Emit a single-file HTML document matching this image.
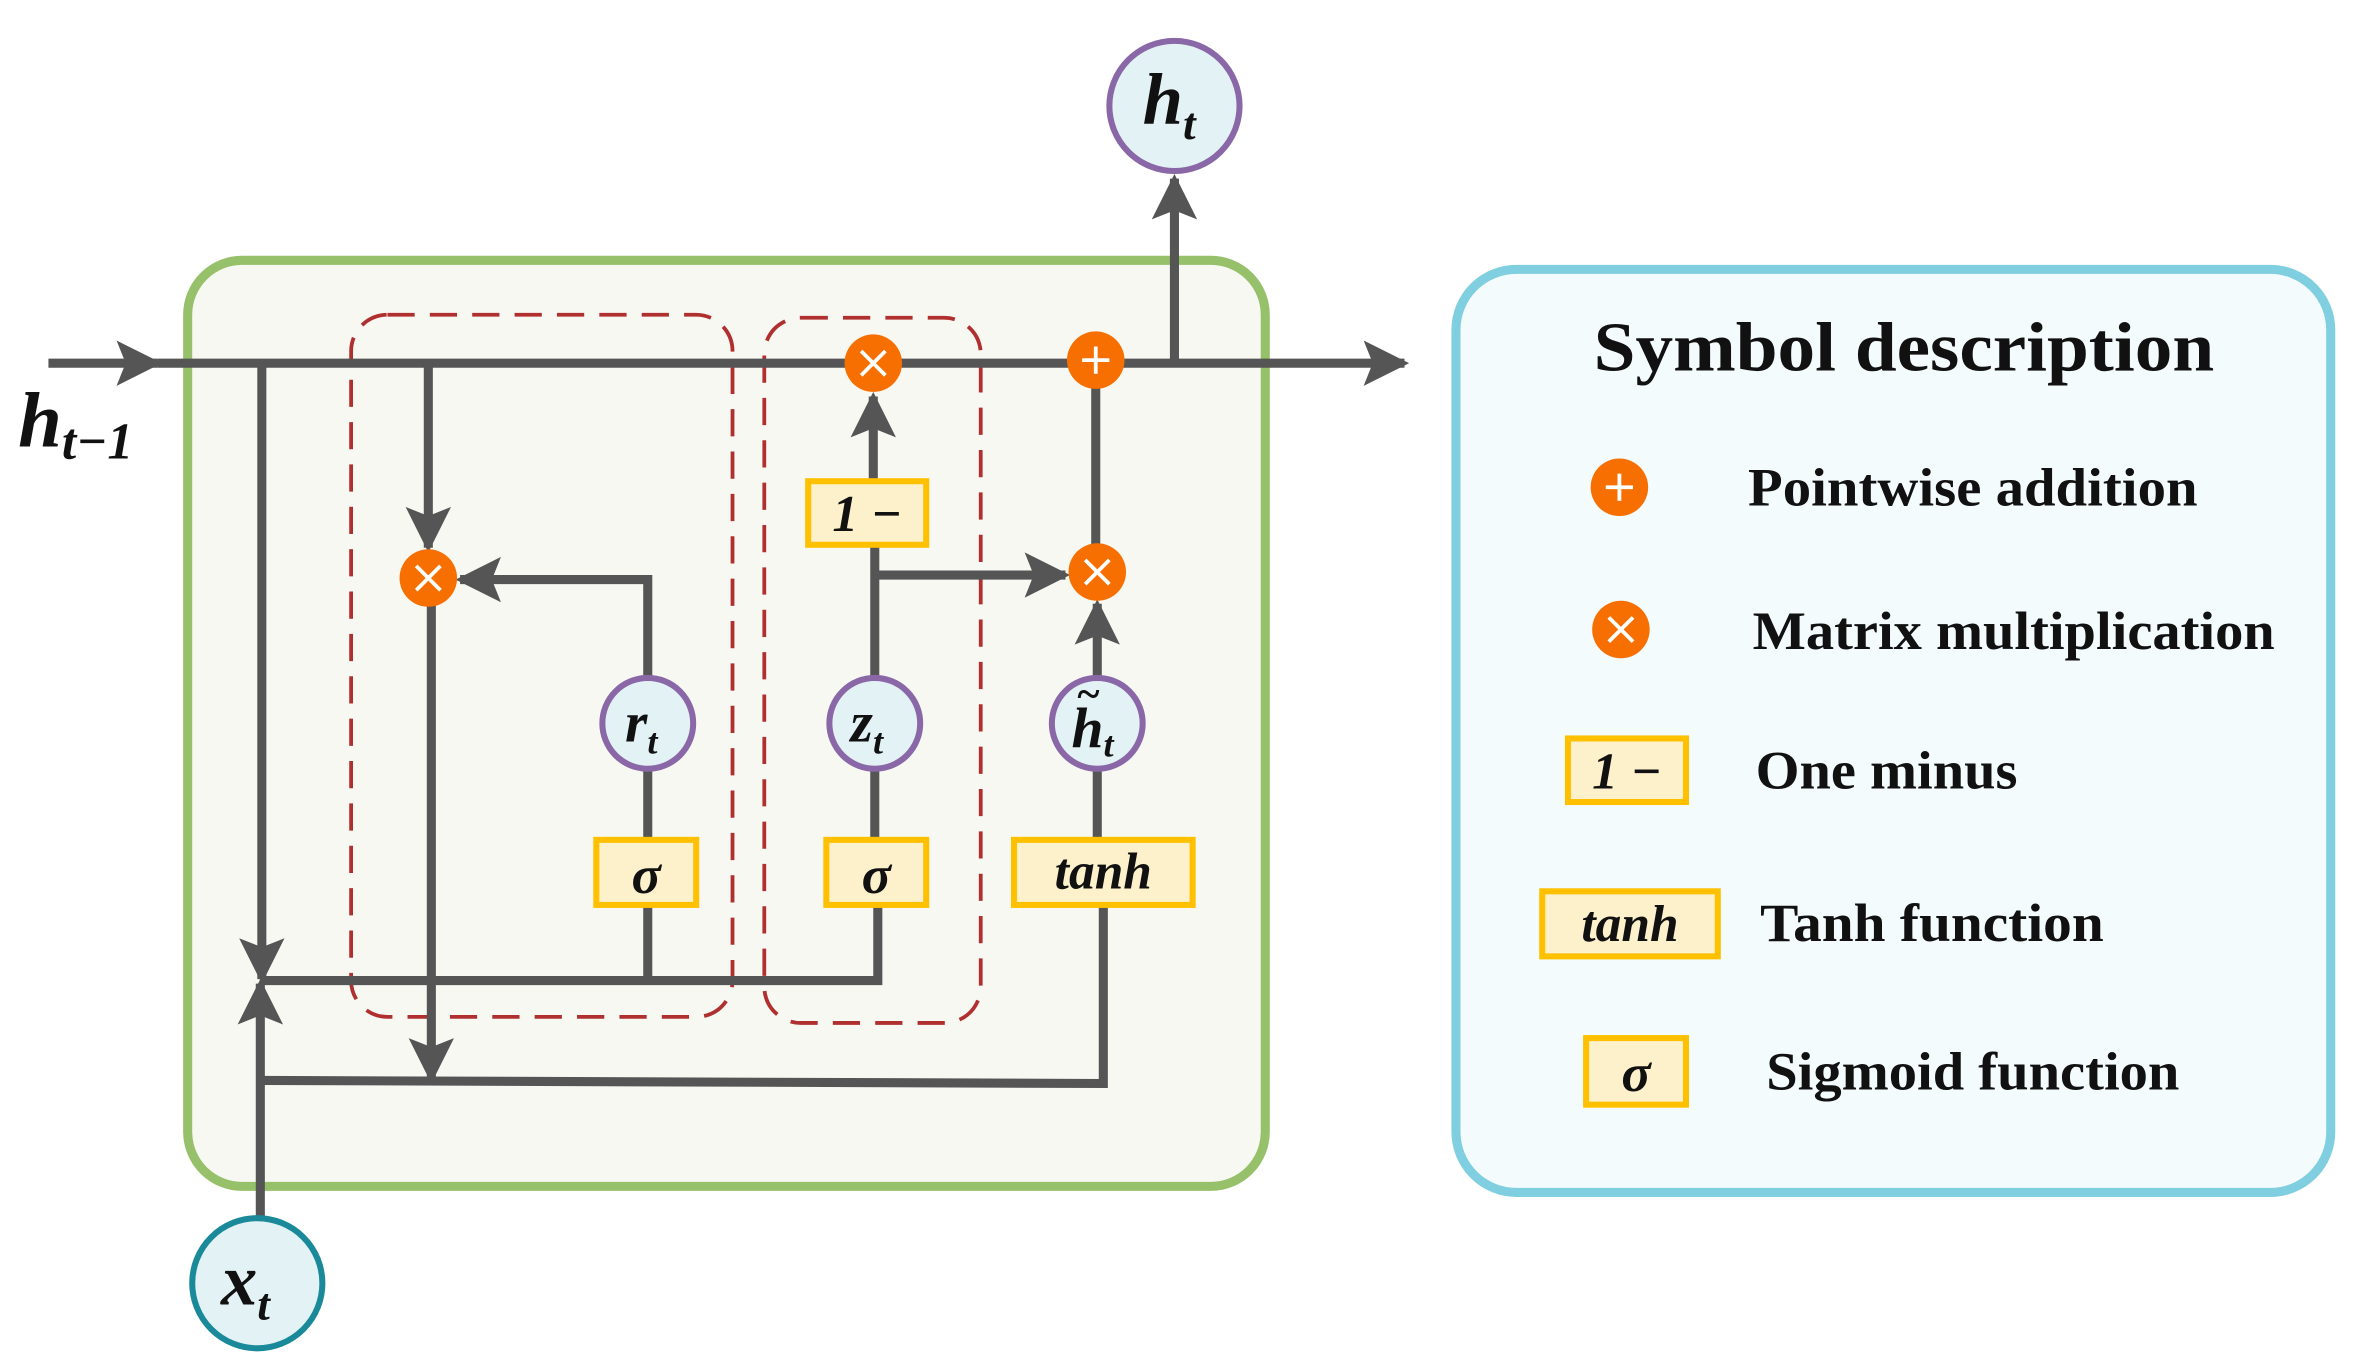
<!DOCTYPE html>
<html><head><meta charset="utf-8"><style>html,body{margin:0;padding:0;background:#fff}svg{display:block}</style></head>
<body>
<svg width="2361" height="1371" viewBox="0 0 1560 906" preserveAspectRatio="none" xmlns="http://www.w3.org/2000/svg" font-family="Liberation Serif, serif">
<defs>
<marker id="a" viewBox="0 0 10 10" refX="9" refY="5" markerWidth="5" markerHeight="5" markerUnits="strokeWidth" orient="auto"><path d="M0,0 L10,5 L0,10 L2,5 z" fill="#555"/></marker>
<g id="mx"><circle r="19" fill="#f76f00"/><path d="M-8,-8 L8,8 M8,-8 L-8,8" stroke="#fff" stroke-width="2.5"/></g>
<g id="pl"><circle r="19" fill="#f76f00"/><path d="M-9,0 L9,0 M0,-9 L0,9" stroke="#fff" stroke-width="2.5"/></g>
</defs>
<rect x="124" y="172" width="712" height="612" rx="36" fill="#f8f8f3" stroke="#97c06a" stroke-width="6"/>
<rect x="962" y="178" width="578" height="610" rx="40" fill="#f4fbfc" stroke="#7fcfe0" stroke-width="6"/>
<rect x="232" y="208" width="252" height="464" rx="24" fill="none" stroke="#b03030" stroke-width="2.5" stroke-dasharray="18,10"/>
<rect x="505" y="210" width="143" height="466" rx="24" fill="none" stroke="#b03030" stroke-width="2.5" stroke-dasharray="18,10"/>
<g stroke="#555" stroke-width="6" fill="none" stroke-linecap="butt">
<line x1="32" y1="240" x2="104" y2="240" marker-end="url(#a)"/>
<line x1="104" y1="240" x2="928" y2="240" marker-end="url(#a)"/>
<line x1="776" y1="240" x2="776" y2="118" marker-end="url(#a)"/>
<line x1="173" y1="240" x2="173" y2="647" marker-end="url(#a)"/>
<line x1="172" y1="805" x2="172" y2="650" marker-end="url(#a)"/>
<line x1="283" y1="240" x2="283" y2="362" marker-end="url(#a)"/>
<line x1="285" y1="400" x2="285" y2="713" marker-end="url(#a)"/>
<polyline points="428,455 428,383 304,383" marker-end="url(#a)"/>
<line x1="428" y1="598" x2="428" y2="648"/>
<line x1="428" y1="508" x2="428" y2="555"/>
<polyline points="173,648 580,648 580,598"/>
<line x1="578" y1="508" x2="578" y2="555"/>
<line x1="578" y1="448" x2="578" y2="360"/>
<line x1="577" y1="318" x2="577" y2="262" marker-end="url(#a)"/>
<line x1="578" y1="380" x2="704" y2="380" marker-end="url(#a)"/>
<line x1="725" y1="448" x2="725" y2="399" marker-end="url(#a)"/>
<line x1="725" y1="508" x2="725" y2="555"/>
<polyline points="729,598 729,716 173,714"/>
<line x1="724" y1="256" x2="724" y2="360"/>
</g>
<use href="#mx" x="577" y="240"/>
<use href="#pl" x="724" y="238"/>
<use href="#mx" x="283" y="382"/>
<use href="#mx" x="725" y="378"/>
<g fill="#e3f2f5" stroke="#8a68a8" stroke-width="4">
<circle cx="776" cy="70" r="43"/>
<circle cx="428" cy="478" r="30"/>
<circle cx="578" cy="478" r="30"/>
<circle cx="725" cy="478" r="30"/>
</g>
<circle cx="170" cy="848" r="43" fill="#e3f2f5" stroke="#1a8a9a" stroke-width="4"/>
<g fill="#fdf1cc" stroke="#ffc000" stroke-width="4">
<rect x="394" y="555" width="66" height="43"/>
<rect x="546" y="555" width="66" height="43"/>
<rect x="534" y="318" width="78" height="42"/>
<rect x="670" y="555" width="118" height="43"/>
<rect x="1036" y="488" width="78" height="42"/>
<rect x="1019" y="589" width="116" height="43"/>
<rect x="1048" y="686" width="66" height="44"/>
</g>
<g font-weight="bold" font-style="italic" fill="#111">
<text x="12" y="295" font-size="52">h<tspan font-size="34" dy="8">t−1</tspan></text>
<text x="755" y="82" font-size="48">h<tspan font-size="30" dy="10">t</tspan></text>
<text x="146" y="862" font-size="48">x<tspan font-size="30" dy="10">t</tspan></text>
<text x="413" y="490" font-size="38">r<tspan font-size="24" dy="8">t</tspan></text>
<text x="562" y="490" font-size="38">z<tspan font-size="24" dy="8">t</tspan></text>
<text x="708" y="494" font-size="38">h<tspan font-size="24" dy="6">t</tspan></text>
<text x="711" y="468" font-size="28">~</text>
<text x="427" y="590" font-size="36" text-anchor="middle">σ</text>
<text x="579" y="590" font-size="36" text-anchor="middle">σ</text>
<text x="573" y="351" font-size="34" text-anchor="middle">1 −</text>
<text x="729" y="587" font-size="34" text-anchor="middle">tanh</text>
<text x="1075" y="521" font-size="34" text-anchor="middle">1 −</text>
<text x="1077" y="622" font-size="34" text-anchor="middle">tanh</text>
<text x="1081" y="721" font-size="36" text-anchor="middle">σ</text>
</g>
<g font-weight="bold" fill="#111">
<text x="1053" y="245" font-size="46" textLength="410" lengthAdjust="spacingAndGlyphs">Symbol description</text>
<text x="1155" y="334" font-size="36" textLength="297" lengthAdjust="spacingAndGlyphs">Pointwise addition</text>
<text x="1158" y="429" font-size="36" textLength="345" lengthAdjust="spacingAndGlyphs">Matrix multiplication</text>
<text x="1160" y="521" font-size="36" textLength="173" lengthAdjust="spacingAndGlyphs">One minus</text>
<text x="1163" y="622" font-size="36" textLength="227" lengthAdjust="spacingAndGlyphs">Tanh function</text>
<text x="1167" y="720" font-size="36" textLength="273" lengthAdjust="spacingAndGlyphs">Sigmoid function</text>
</g>
<use href="#pl" x="1070" y="322"/>
<use href="#mx" x="1071" y="416"/>
</svg>
</body></html>
